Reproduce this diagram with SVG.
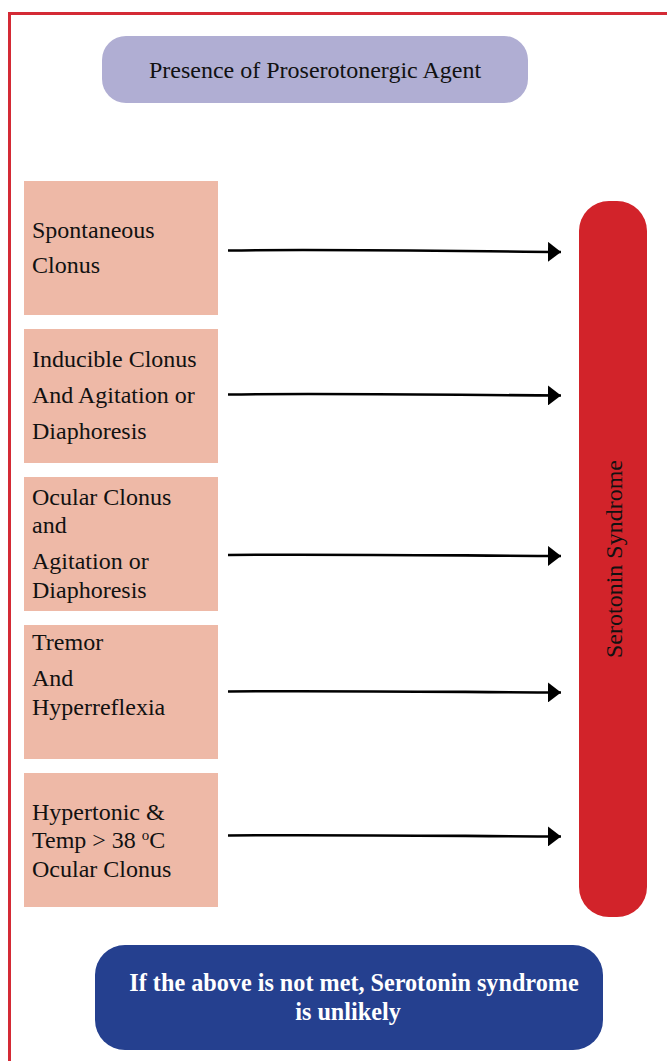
<svg xmlns="http://www.w3.org/2000/svg" width="667" height="1061" viewBox="0 0 667 1061">
<defs>
<style>
.t{font-family:"Liberation Serif","Times New Roman",serif;font-size:24px;fill:#111}
.crit{fill:#EEB9A7}
.conn{fill:none;stroke:#000;stroke-width:2.6}
.wb{font-family:"Liberation Serif","Times New Roman",serif;font-size:24.2px;font-weight:bold;fill:#fff}
</style>
<marker id="ah" markerUnits="userSpaceOnUse" markerWidth="14" markerHeight="20" refX="13" refY="10" orient="auto">
<path d="M0,0 L13,10 L0,20 Z" fill="#000"/>
</marker>
</defs>
<rect width="667" height="1061" fill="#fff"/>
<g id="frame">
<path d="M9.5,1061 V13.5 H667" fill="none" stroke="#D42A35" stroke-width="3"/>
</g>
<g id="agent">
<rect x="102" y="36" width="426" height="67" rx="24" fill="#B0AED3"/>
<text class="t" x="315" y="78" text-anchor="middle">Presence of Proserotonergic Agent</text>
</g>
<g id="c1">
<rect class="crit" x="24" y="181" width="194" height="134"/>
<text class="t" x="32" y="238">Spontaneous</text>
<text class="t" x="32" y="273">Clonus</text>
</g>
<g id="c2">
<rect class="crit" x="24" y="329" width="194" height="134"/>
<text class="t" x="32" y="367">Inducible Clonus</text>
<text class="t" x="32" y="403">And Agitation or</text>
<text class="t" x="32" y="439">Diaphoresis</text>
</g>
<g id="c3">
<rect class="crit" x="24" y="477" width="194" height="134"/>
<text class="t" x="32" y="505">Ocular Clonus</text>
<text class="t" x="32" y="533">and</text>
<text class="t" x="32" y="569">Agitation or</text>
<text class="t" x="32" y="598">Diaphoresis</text>
</g>
<g id="c4">
<rect class="crit" x="24" y="625" width="194" height="134"/>
<text class="t" x="32" y="650">Tremor</text>
<text class="t" x="32" y="686">And</text>
<text class="t" x="32" y="715">Hyperreflexia</text>
</g>
<g id="c5">
<rect class="crit" x="24" y="773" width="194" height="134"/>
<text class="t" x="32" y="820">Hypertonic &amp;</text>
<text class="t" x="32" y="848">Temp &gt; 38 <tspan font-size="15" dy="-8">o</tspan><tspan dy="8">C</tspan></text>
<text class="t" x="32" y="877">Ocular Clonus</text>
</g>
<g id="serotonin">
<rect x="579" y="201" width="68" height="716" rx="30" fill="#D2232A"/>
<text class="t" transform="translate(622,559) rotate(-90)" text-anchor="middle">Serotonin Syndrome</text>
</g>
<g id="unlikely">
<rect x="95" y="945" width="508" height="105" rx="30" fill="#25408F"/>
<text class="wb" x="354" y="991" text-anchor="middle">If the above is not met, Serotonin syndrome</text>
<text class="wb" x="348" y="1020" text-anchor="middle">is unlikely</text>
</g>
<g id="connectors">
<path class="conn" marker-end="url(#ah)" d="M228,250.5 C330,249 450,251 561,252"/>
<path class="conn" marker-end="url(#ah)" d="M228,394.5 C330,393 450,395 561,395.5"/>
<path class="conn" marker-end="url(#ah)" d="M228,555 C330,554 450,555.5 561,556"/>
<path class="conn" marker-end="url(#ah)" d="M228,691.5 C330,690.5 450,692 561,692.5"/>
<path class="conn" marker-end="url(#ah)" d="M228,835.5 C330,834.5 450,836 561,836.5"/>
</g>
</svg>
